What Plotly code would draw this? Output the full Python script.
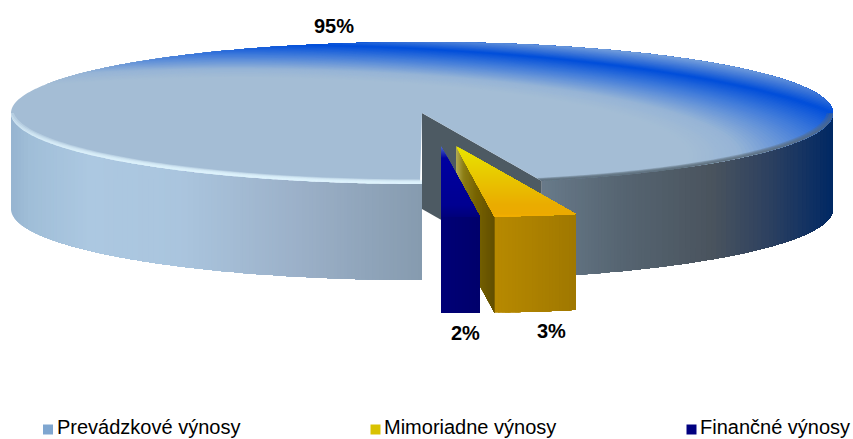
import math
import numpy as np
import plotly.graph_objects as go

labels = ['Prevádzkové výnosy', 'Mimoriadne výnosy', 'Finančné výnosy']
shares = [95.3, 3.2, 1.5]
swatch_colors = ['#7FA6D0', '#D9C200', '#000080']

W, H = 853, 439
CX, CY = 422, 113      # pie centre
A, B = 411, 71         # ellipse of the top face
DEPTH = 96
EXPLODE = {1: (34, 33), 2: (19, 33)}
SHINE = (-0.45, -0.6)  # centre of the blue sheen, in pie units

# colour ramps, (position, rgb)
top_ramp = [(1.10, (164, 189, 213)), (1.22, (150, 180, 214)), (1.40, (72, 128, 218)),
            (1.57, (0, 78, 218)), (1.64, (50, 110, 215)), (1.76, (125, 165, 220))]
side_ramp = [(11, (150, 180, 208)), (30, (160, 190, 216)), (90, (172, 200, 225)), (180, (170, 197, 222)),
             (300, (155, 176, 200)), (421, (134, 155, 175)), (541, (104, 122, 138)), (620, (86, 101, 114)),
             (710, (74, 84, 94)), (770, (44, 64, 96)), (833, (0, 40, 100))]
yellow_ramp = [(146, (232, 230, 0)), (175, (232, 200, 0)), (205, (234, 172, 0)), (214, (236, 170, 0)), (218, (250, 178, 0))]
yellow_front = [(492, (184, 138, 0)), (574, (160, 120, 0))]
yellow_cut = [(456, (176, 168, 80)), (463, (140, 125, 20)), (476, (118, 98, 0)), (492, (100, 80, 0))]
blue_ramp = [(146, (80, 110, 205)), (158, (0, 0, 160)), (205, (0, 0, 145)), (218, (0, 0, 120))]
blue_front = [(441, (0, 0, 118)), (477, (0, 0, 108))]


def ramp(stops, t):
    if t <= stops[0][0]:
        return stops[0][1]
    for (t0, c0), (t1, c1) in zip(stops, stops[1:]):
        if t <= t1:
            f = (t - t0) / (t1 - t0)
            return tuple(c0[i] + (c1[i] - c0[i]) * f for i in range(3))
    return stops[-1][1]


def rgb(c):
    return 'rgb(%d,%d,%d)' % tuple(round(v) for v in c)


def add_poly(pts, col):
    xs = [round(p[0], 2) for p in pts] + [round(pts[0][0], 2)]
    ys = [round(p[1], 2) for p in pts] + [round(pts[0][1], 2)]
    fig.add_trace(go.Scatter(x=xs, y=ys, mode='none', fill='toself', fillcolor=col,
                             hoverinfo='skip', showlegend=False))


def rim(cx, cy, th, r=1.0):
    t = math.radians(th)
    return (cx + A * r * math.sin(t), cy + B * r * math.cos(t))


def to_px(u, v):
    return (CX + A * u, CY - B * v)


def sheen(center, level, th_from, th_to):
    # part of the top face lying further than level from center: rim arc, then back along a circle
    arc = []
    for th in np.arange(th_from, th_to + 0.01, 0.4):
        t = math.radians(th)
        u, v = math.sin(t), -math.cos(t)
        if math.hypot(u - center[0], v - center[1]) > level:
            arc.append((u, v))
    if len(arc) < 2:
        return None
    phi0 = math.atan2(arc[-1][1] - center[1], arc[-1][0] - center[0])
    phi1 = math.atan2(arc[0][1] - center[1], arc[0][0] - center[0])
    if phi1 - phi0 > math.pi:
        phi1 -= 2 * math.pi
    elif phi0 - phi1 > math.pi:
        phi1 += 2 * math.pi
    back = [(center[0] + level * math.cos(p), center[1] + level * math.sin(p)) for p in np.linspace(phi0, phi1, 80)]
    return [to_px(u, v) for u, v in arc + back]


def clip_y(pts, level):
    # keep the part of a polygon below the screen line y = level
    out = []
    for (x0, y0), (x1, y1) in zip(pts, pts[1:] + pts[:1]):
        if y0 >= level:
            out.append((x0, y0))
        if (y0 >= level) != (y1 >= level):
            f = (level - y0) / (y1 - y0)
            out.append((x0 + (x1 - x0) * f, level))
    return out


def side_bands(cx, cy, a0, a1, stops, dx=3.0):
    # painted left to right, each band runs to the end of the wall so no seams show
    ths = np.linspace(a0, a1, int(abs(a1 - a0) / 0.5) + 2)
    pts = [rim(cx, cy, t) for t in ths]
    x_next = pts[0][0]
    for k in range(len(pts) - 1):
        if pts[k][0] < x_next and k > 0:
            continue
        x_next = pts[k][0] + dx
        part = pts[k:]
        poly = part + [(x, y + DEPTH) for x, y in reversed(part)]
        add_poly(poly, rgb(ramp(stops, part[0][0] + dx / 2)))


# angles measured from the front of the pie, going towards the right
angles = {}
start = 0
for i in [2, 1, 0]:
    angles[i] = (start, start + shares[i] * 3.6)
    start += shares[i] * 3.6

fig = go.Figure()

# side of the large slice
th0, th1 = angles[0]
side_bands(CX, CY, th0, 90, side_ramp)
side_bands(CX, CY, 270, th1, side_ramp)

# inner wall seen through the gap
ex, ey = rim(CX, CY, th0)
add_poly([(CX, CY), (ex, ey), (ex, ey + DEPTH), (CX, CY + DEPTH)], 'rgb(77,90,99)')

# top face of the large slice
base = [(CX, CY)] + [rim(CX, CY, t) for t in np.arange(th0, th1 + 0.01, 0.4)]
add_poly(base, rgb(top_ramp[0][1]))
for level in np.arange(1.10, 1.75, 0.01):
    poly = sheen(SHINE, level, th0, th1)
    if poly:
        add_poly(poly, rgb(ramp(top_ramp, level + 0.005)))

# bevels along the front rim, light on the left and dark on the right
for level in np.arange(0.995, 1.06, 0.006):
    poly = sheen((0, 0.06), level, 270, th1)
    if poly:
        add_poly(poly, 'rgba(224,244,255,0.3)')
for level in np.arange(0.985, 1.03, 0.006):
    poly = sheen((0, 0.03), level, th0, 90)
    if poly:
        add_poly(poly, 'rgba(90,105,120,0.3)')


def small_slice(idx, top_stops, front_stops):
    dx, dy = EXPLODE[idx]
    cx, cy = CX + dx, CY + dy
    a0, a1 = angles[idx]
    # cut face on the left
    if idx == 1:
        ex, ey = rim(cx, cy, a0)
        for f in np.linspace(0, 0.98, 30):
            x0, y0 = cx + (ex - cx) * f, cy + (ey - cy) * f
            add_poly([(x0, y0), (ex, ey), (ex, ey + DEPTH), (x0, y0 + DEPTH)], rgb(ramp(yellow_cut, x0)))
    side_bands(cx, cy, a0, a1, front_stops, dx=2.0)
    # top face
    wedge = [(cx, cy)] + [rim(cx, cy, t) for t in np.linspace(a0, a1, 16)]
    for level in np.arange(cy, cy + B + 1, 1.0):
        poly = clip_y(wedge, level)
        if len(poly) > 2:
            add_poly(poly, rgb(ramp(top_stops, level + 0.5)))


small_slice(1, yellow_ramp, yellow_front)
small_slice(2, blue_ramp, blue_front)

# percentage labels
label_pos = {0: (334, 26), 1: (551, 331), 2: (465, 333)}
for i, (x, y) in label_pos.items():
    fig.add_annotation(x=x, y=y, text='%d%%' % round(shares[i]), showarrow=False,
                       font=dict(family='Liberation Sans', size=20, color='black', weight='bold'))

# legend row, spacing of the original is not even so it is placed by hand
legend_x = [48, 375.5, 691.5]
fig.add_trace(go.Scatter(x=legend_x, y=[429.5] * 3, mode='markers', hoverinfo='skip', showlegend=False,
                         marker=dict(symbol='square', size=10, color=swatch_colors)))
for x, name in zip(legend_x, labels):
    fig.add_annotation(x=x + 6.5, y=427, text=name, showarrow=False, xanchor='left',
                       font=dict(family='Liberation Sans', size=20, color='black'))

fig.update_xaxes(range=[0, W], visible=False, fixedrange=True)
fig.update_yaxes(range=[H, 0], visible=False, fixedrange=True)
fig.update_layout(width=W, height=H, margin=dict(l=0, r=0, t=0, b=0),
                  paper_bgcolor='white', plot_bgcolor='white')
fig.write_html("out.html", post_script="document.body.style.margin='0';", config={'displayModeBar': False})
